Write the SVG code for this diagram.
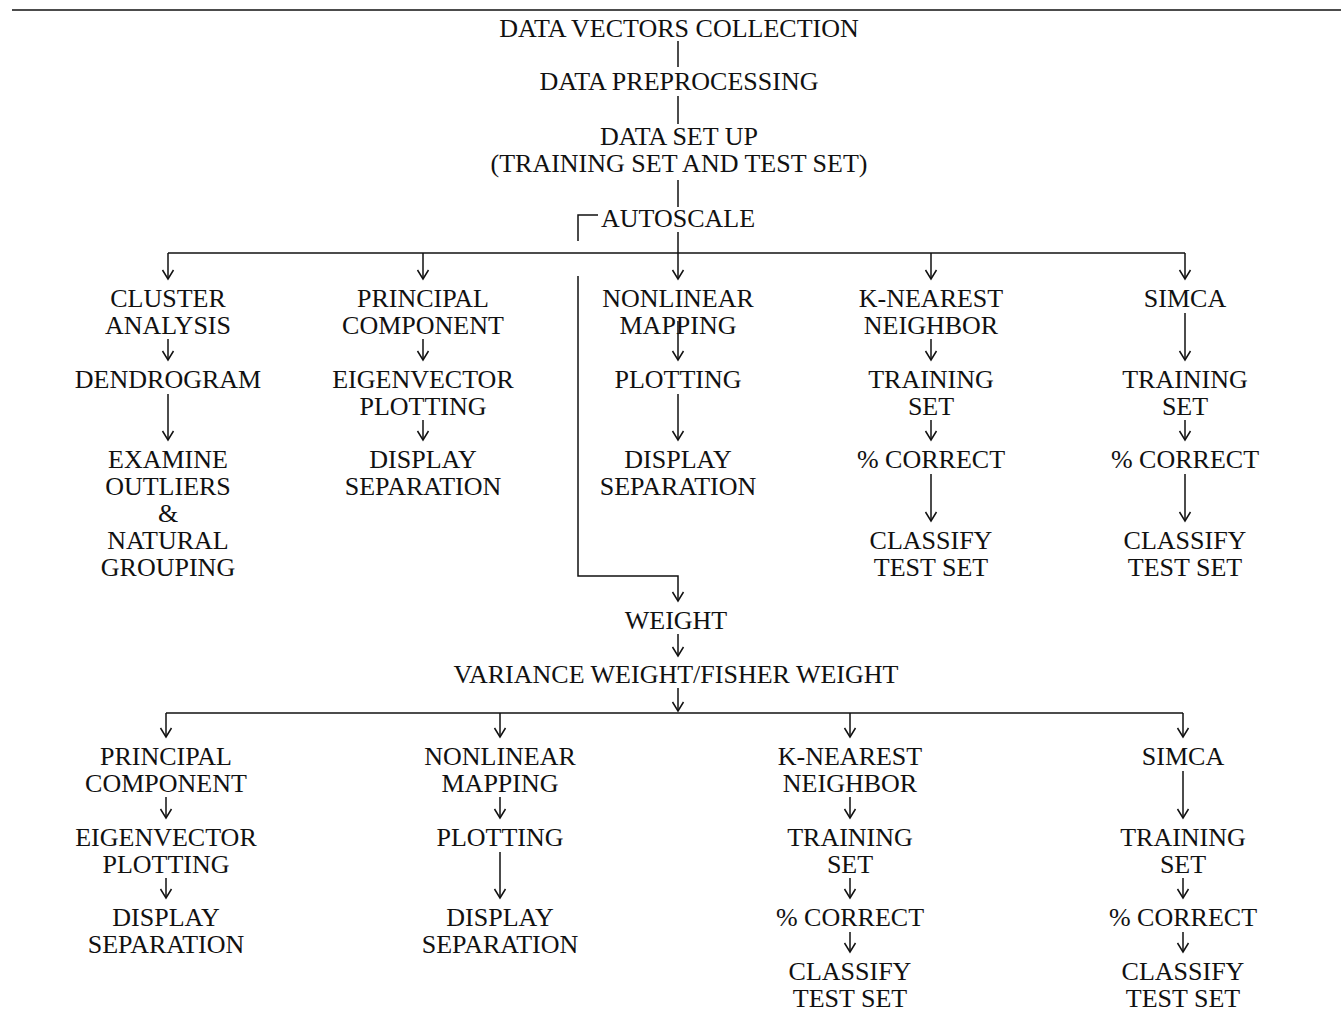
<svg xmlns="http://www.w3.org/2000/svg" width="1341" height="1018" viewBox="0 0 1341 1018">
<style>
text{font-family:"Liberation Serif","Times New Roman",serif;font-size:26px;fill:#111;text-anchor:middle}
.c line,.c path{stroke:#111;stroke-width:1.5;fill:none}
.a{marker-end:url(#ah)}
</style>
<defs>
<marker id="ah" markerUnits="userSpaceOnUse" orient="auto" overflow="visible" markerWidth="1" markerHeight="1" refX="0" refY="0">
<path d="M-9,-5.5 L0,0 L-9,5.5" fill="none" stroke="#111" stroke-width="1.5"/>
</marker>
</defs>
<rect width="1341" height="1018" fill="#fff"/>
<g class="c" id="connectors">
<line x1="12" y1="10" x2="1341" y2="10"/>
<line x1="678" y1="41" x2="678" y2="67"/>
<line x1="678" y1="96" x2="678" y2="124"/>
<line x1="678" y1="180" x2="678" y2="207"/>
<line x1="678" y1="232" x2="678" y2="253"/>
<line x1="168" y1="253" x2="1185" y2="253"/>
<line class="a" x1="168" y1="253" x2="168" y2="279"/>
<line class="a" x1="423" y1="253" x2="423" y2="279"/>
<line class="a" x1="678" y1="253" x2="678" y2="279"/>
<line class="a" x1="931" y1="253" x2="931" y2="279"/>
<line class="a" x1="1185" y1="253" x2="1185" y2="279"/>
<path d="M598,215 H578 V241"/>
<path class="a" d="M578,276 V576 H678 V601"/>
<line class="a" x1="168" y1="339" x2="168" y2="360"/>
<line class="a" x1="168" y1="394" x2="168" y2="440"/>
<line class="a" x1="423" y1="339" x2="423" y2="360"/>
<line class="a" x1="423" y1="420" x2="423" y2="440"/>
<line class="a" x1="678" y1="321" x2="678" y2="360"/>
<line class="a" x1="678" y1="394" x2="678" y2="440"/>
<line class="a" x1="931" y1="339" x2="931" y2="360"/>
<line class="a" x1="931" y1="420" x2="931" y2="440"/>
<line class="a" x1="931" y1="474" x2="931" y2="521"/>
<line class="a" x1="1185" y1="313" x2="1185" y2="360"/>
<line class="a" x1="1185" y1="420" x2="1185" y2="440"/>
<line class="a" x1="1185" y1="474" x2="1185" y2="521"/>
<line class="a" x1="678" y1="634" x2="678" y2="656"/>
<line class="a" x1="678" y1="688" x2="678" y2="711"/>
<line x1="166" y1="713" x2="1183" y2="713"/>
<line class="a" x1="166" y1="713" x2="166" y2="737"/>
<line class="a" x1="500" y1="713" x2="500" y2="737"/>
<line class="a" x1="850" y1="713" x2="850" y2="737"/>
<line class="a" x1="1183" y1="713" x2="1183" y2="737"/>
<line class="a" x1="166" y1="797" x2="166" y2="818"/>
<line class="a" x1="166" y1="878" x2="166" y2="898"/>
<line class="a" x1="500" y1="797" x2="500" y2="818"/>
<line class="a" x1="500" y1="852" x2="500" y2="898"/>
<line class="a" x1="850" y1="797" x2="850" y2="818"/>
<line class="a" x1="850" y1="878" x2="850" y2="898"/>
<line class="a" x1="850" y1="932" x2="850" y2="952"/>
<line class="a" x1="1183" y1="771" x2="1183" y2="818"/>
<line class="a" x1="1183" y1="878" x2="1183" y2="898"/>
<line class="a" x1="1183" y1="932" x2="1183" y2="952"/>
</g>
<g id="n-collection"><text x="679" y="37">DATA VECTORS COLLECTION</text></g>
<g id="n-preprocessing"><text x="679" y="90">DATA PREPROCESSING</text></g>
<g id="n-setup"><text x="679" y="145">DATA SET UP</text><text x="679" y="172">(TRAINING SET AND TEST SET)</text></g>
<g id="n-autoscale"><text x="678" y="227">AUTOSCALE</text></g>
<g id="n-cluster"><text x="168" y="307">CLUSTER</text><text x="168" y="334">ANALYSIS</text></g>
<g id="n-dendrogram"><text x="168" y="388">DENDROGRAM</text></g>
<g id="n-examine"><text x="168" y="468">EXAMINE</text><text x="168" y="495">OUTLIERS</text><text x="168" y="522">&amp;</text><text x="168" y="549">NATURAL</text><text x="168" y="576">GROUPING</text></g>
<g id="n-pc1"><text x="423" y="307">PRINCIPAL</text><text x="423" y="334">COMPONENT</text></g>
<g id="n-eig1"><text x="423" y="388">EIGENVECTOR</text><text x="423" y="415">PLOTTING</text></g>
<g id="n-disp1"><text x="423" y="468">DISPLAY</text><text x="423" y="495">SEPARATION</text></g>
<g id="n-nlm1"><text x="678" y="307">NONLINEAR</text><text x="678" y="334">MAPPING</text></g>
<g id="n-plot1"><text x="678" y="388">PLOTTING</text></g>
<g id="n-disp2"><text x="678" y="468">DISPLAY</text><text x="678" y="495">SEPARATION</text></g>
<g id="n-knn1"><text x="931" y="307">K-NEAREST</text><text x="931" y="334">NEIGHBOR</text></g>
<g id="n-train1"><text x="931" y="388">TRAINING</text><text x="931" y="415">SET</text></g>
<g id="n-corr1"><text x="931" y="468">% CORRECT</text></g>
<g id="n-class1"><text x="931" y="549">CLASSIFY</text><text x="931" y="576">TEST SET</text></g>
<g id="n-simca1"><text x="1185" y="307">SIMCA</text></g>
<g id="n-train2"><text x="1185" y="388">TRAINING</text><text x="1185" y="415">SET</text></g>
<g id="n-corr2"><text x="1185" y="468">% CORRECT</text></g>
<g id="n-class2"><text x="1185" y="549">CLASSIFY</text><text x="1185" y="576">TEST SET</text></g>
<g id="n-weight"><text x="676" y="629">WEIGHT</text></g>
<g id="n-variance"><text x="676" y="683">VARIANCE WEIGHT/FISHER WEIGHT</text></g>
<g id="n-pc2"><text x="166" y="765">PRINCIPAL</text><text x="166" y="792">COMPONENT</text></g>
<g id="n-eig2"><text x="166" y="846">EIGENVECTOR</text><text x="166" y="873">PLOTTING</text></g>
<g id="n-disp3"><text x="166" y="926">DISPLAY</text><text x="166" y="953">SEPARATION</text></g>
<g id="n-nlm2"><text x="500" y="765">NONLINEAR</text><text x="500" y="792">MAPPING</text></g>
<g id="n-plot2"><text x="500" y="846">PLOTTING</text></g>
<g id="n-disp4"><text x="500" y="926">DISPLAY</text><text x="500" y="953">SEPARATION</text></g>
<g id="n-knn2"><text x="850" y="765">K-NEAREST</text><text x="850" y="792">NEIGHBOR</text></g>
<g id="n-train3"><text x="850" y="846">TRAINING</text><text x="850" y="873">SET</text></g>
<g id="n-corr3"><text x="850" y="926">% CORRECT</text></g>
<g id="n-class3"><text x="850" y="980">CLASSIFY</text><text x="850" y="1007">TEST SET</text></g>
<g id="n-simca2"><text x="1183" y="765">SIMCA</text></g>
<g id="n-train4"><text x="1183" y="846">TRAINING</text><text x="1183" y="873">SET</text></g>
<g id="n-corr4"><text x="1183" y="926">% CORRECT</text></g>
<g id="n-class4"><text x="1183" y="980">CLASSIFY</text><text x="1183" y="1007">TEST SET</text></g>
</svg>
